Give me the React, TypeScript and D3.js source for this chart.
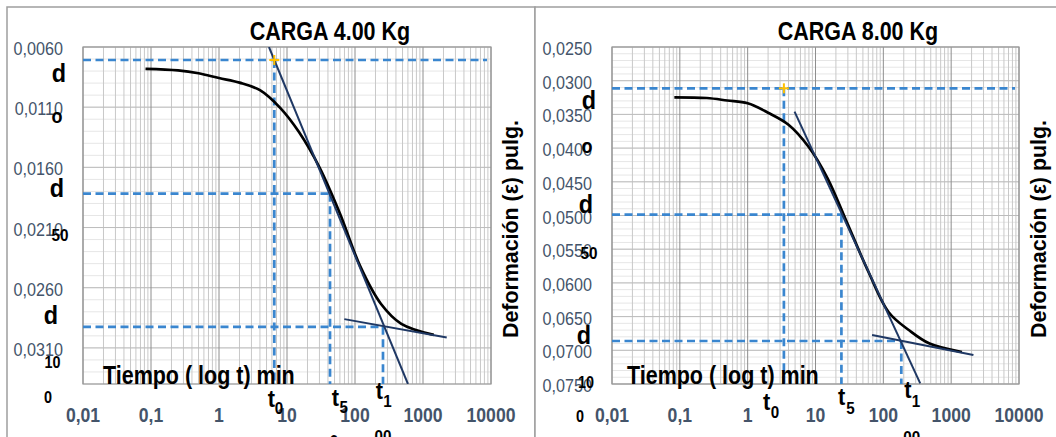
import React from "react";
import * as d3 from "d3";

// ---------------- DATA ----------------
const times = [0.083, 0.25, 0.5, 1, 2, 4, 8, 15, 30, 60, 120, 240, 480, 1440];
const def4 = [0.00781, 0.00794, 0.00818, 0.00858, 0.00896, 0.00959, 0.01108, 0.01307, 0.016, 0.01983, 0.02425, 0.02733, 0.029, 0.02992];
const def8 = [0.03246, 0.03257, 0.03294, 0.03335, 0.03475, 0.03653, 0.03987, 0.04444, 0.05135, 0.05831, 0.06435, 0.06703, 0.069, 0.07025];

const xTickValues = [0.01, 0.1, 1, 10, 100, 1000, 10000];
const xTickLabels = ["0,01", "0,1", "1", "10", "100", "1000", "10000"];

const yTicks4 = [0.006, 0.011, 0.016, 0.021, 0.026, 0.031];
const yTicks8 = [0.025, 0.03, 0.035, 0.04, 0.045, 0.05, 0.055, 0.06, 0.065, 0.07, 0.075];

const titles = ["CARGA 4.00 Kg", "CARGA 8.00 Kg"];
const xTitle = "Tiempo ( log t) min";
const yTitle = "Deformación (ε) pulg.";

// Casagrande construction values [t0, d0, t50, d50, t100, d100]
const casa4 = [6.5, 0.00708, 42.9, 0.01819, 258, 0.02925];
const casa8 = [3.42, 0.03113, 24.1, 0.04988, 184, 0.06862];
// tangent lines: [t, d] pairs
const steep4 = [[5.43, 0.006], [601, 0.034]];
const flat4 = [[69.7, 0.02861], [2234, 0.03014]];
const steep8 = [[4.91, 0.0346], [350, 0.0749]];
const flat8 = [[68.2, 0.06773], [2128, 0.0707]];

// ---------------- LAYOUT ----------------
const FONT = "'Liberation Sans', Arial, sans-serif";

function T(props: any) {
  const { x, y, size, bold = true, sx = 1, anchor = "start", fill = "#000", rotate, children } = props;
  const tr = `translate(${x},${y})` + (rotate ? ` rotate(${rotate})` : "") + ` scale(${sx},1)`;
  return (
    <text transform={tr} fontSize={size} fontWeight={bold ? 700 : 400} textAnchor={anchor} fill={fill} fontFamily={FONT}>
      {children}
    </text>
  );
}

type PanelCfg = {
  id: string;
  frame: [number, number, number, number];
  plot: { x0: number; x1: number; y0: number; y1: number };
  yDomain: [number, number];
  yTicks: number[];
  data: number[];
  casa: number[];
  steep: number[][];
  flat: number[][];
  title: string;
  titleX: number;
  dLabels: { t: string; x: number; y: number; s: number }[];
  tLabels: { t: string; x: number; y: number; s: number }[];
  yTitleX: number;
  xTitleX: number;
};

const panels: PanelCfg[] = [
  {
    id: "p4",
    frame: [7, 7, 528, 460],
    plot: { x0: 83, x1: 491, y0: 47, y1: 384 },
    yDomain: [0.006, 0.034],
    yTicks: yTicks4,
    data: def4,
    casa: casa4,
    steep: steep4,
    flat: flat4,
    title: titles[0],
    titleX: 330,
    dLabels: [
      { t: "d", x: 59, y: 82, s: 26 },
      { t: "o", x: 57, y: 123, s: 20 },
      { t: "d", x: 57, y: 197, s: 26 },
      { t: "50", x: 60, y: 241, s: 17 },
      { t: "d", x: 51, y: 324, s: 26 },
      { t: "10", x: 52.5, y: 368, s: 16 },
      { t: "0", x: 48, y: 403, s: 16 },
    ],
    tLabels: [
      { t: "t", x: 271.5, y: 407, s: 23 },
      { t: "0", x: 279, y: 414, s: 16 },
      { t: "t", x: 335.3, y: 406, s: 23 },
      { t: "5", x: 343.8, y: 413, s: 16 },
      { t: "t", x: 379.5, y: 399, s: 23 },
      { t: "1", x: 387.5, y: 407, s: 16 },
      { t: "0", x: 334, y: 447, s: 16 },
      { t: "00", x: 383, y: 442, s: 16 },
    ],
    yTitleX: 518,
    xTitleX: 103,
  },
  {
    id: "p8",
    frame: [535, 7, 540, 460],
    plot: { x0: 612, x1: 1019, y0: 47, y1: 384 },
    yDomain: [0.025, 0.075],
    yTicks: yTicks8,
    data: def8,
    casa: casa8,
    steep: steep8,
    flat: flat8,
    title: titles[1],
    titleX: 858,
    dLabels: [
      { t: "d", x: 589, y: 109, s: 26 },
      { t: "o", x: 587, y: 153, s: 20 },
      { t: "d", x: 586, y: 213, s: 26 },
      { t: "50", x: 589, y: 259, s: 17 },
      { t: "d", x: 584, y: 344, s: 26 },
      { t: "10", x: 586, y: 388, s: 16 },
      { t: "0", x: 580, y: 422, s: 16 },
    ],
    tLabels: [
      { t: "t", x: 766.7, y: 410, s: 23 },
      { t: "0", x: 775, y: 418, s: 16 },
      { t: "t", x: 841.7, y: 405, s: 23 },
      { t: "5", x: 850.5, y: 414, s: 16 },
      { t: "t", x: 908, y: 398, s: 23 },
      { t: "1", x: 916, y: 407, s: 16 },
      { t: "0", x: 846, y: 450, s: 16 },
      { t: "00", x: 911.7, y: 443, s: 16 },
    ],
    yTitleX: 1046,
    xTitleX: 627,
  },
];

const BLUE = "#3A86CF";
const NAVY = "#1F3864";

function Panel({ cfg }: { cfg: PanelCfg }) {
  const { plot } = cfg;
  const x = d3.scaleLog().domain([0.01, 10000]).range([plot.x0, plot.x1]);
  const y = d3.scaleLinear().domain(cfg.yDomain).range([plot.y0, plot.y1]);

  // gridlines
  const vMajor = xTickValues;
  const vMinor: number[] = [];
  for (let e = -2; e < 4; e++) for (let k = 2; k <= 9; k++) vMinor.push(k * Math.pow(10, e));
  const hMinor: number[] = [];
  const nMin = Math.round((cfg.yDomain[1] - cfg.yDomain[0]) / 0.001);
  for (let i = 0; i <= nMin; i++) hMinor.push(cfg.yDomain[0] + i * 0.001);

  const line = d3
    .line<number>()
    .x((_, i) => x(times[i]))
    .y((d) => y(d))
    .curve(d3.curveCatmullRom.alpha(0.5));
  const segLine = d3
    .line<number[]>()
    .x((d) => x(d[0]))
    .y((d) => y(d[1]));

  const [t0, d0, t50, d50, t100, d100] = cfg.casa;
  const dash = "8 4.5";
  const tmin = 0.01;
  const tmax = 10000;

  return (
    <g>
      <defs>
        <clipPath id={`clip-${cfg.id}`}>
          <rect x={plot.x0} y={plot.y0} width={plot.x1 - plot.x0} height={plot.y1 - plot.y0} />
        </clipPath>
      </defs>
      <rect x={cfg.frame[0]} y={cfg.frame[1]} width={cfg.frame[2]} height={cfg.frame[3]} fill="#fff" stroke="#9e9e9e" strokeWidth={1.5} />
      {hMinor.map((v, i) => (
        <line key={`hm${i}`} x1={plot.x0} x2={plot.x1} y1={y(v)} y2={y(v)} stroke="#e6e6e6" strokeWidth={1} />
      ))}
      {vMinor.map((v, i) => (
        <line key={`vm${i}`} x1={x(v)} x2={x(v)} y1={plot.y0} y2={plot.y1} stroke="#c8c8c8" strokeWidth={1} />
      ))}
      {cfg.yTicks.map((v, i) => (
        <line key={`hM${i}`} x1={plot.x0} x2={plot.x1} y1={y(v)} y2={y(v)} stroke="#bcbcbc" strokeWidth={1} />
      ))}
      {vMajor.map((v, i) => (
        <line key={`vM${i}`} x1={x(v)} x2={x(v)} y1={plot.y0} y2={plot.y1} stroke="#8e8e8e" strokeWidth={1} />
      ))}
      <rect x={plot.x0} y={plot.y0} width={plot.x1 - plot.x0} height={plot.y1 - plot.y0} fill="none" stroke="#999" strokeWidth={1.2} />

      <g stroke={BLUE} strokeWidth={2.7} strokeDasharray={dash} fill="none">
        <line x1={x(tmin)} x2={x(tmax) - 4} y1={y(d0)} y2={y(d0)} />
        <line x1={x(t0)} x2={x(t0)} y1={y(d0)} y2={plot.y1} />
        <line x1={x(tmin)} x2={x(t50)} y1={y(d50)} y2={y(d50)} />
        <line x1={x(t50)} x2={x(t50)} y1={y(d50)} y2={plot.y1} />
        <line x1={x(tmin)} x2={x(t100)} y1={y(d100)} y2={y(d100)} />
        <line x1={x(t100)} x2={x(t100)} y1={y(d100)} y2={plot.y1} />
      </g>

      <path d={line(cfg.data) || ""} fill="none" stroke="#000" strokeWidth={2.7} strokeLinejoin="round" />

      <g clipPath={`url(#clip-${cfg.id})`}>
        <path d={segLine(cfg.steep) || ""} stroke={NAVY} strokeWidth={2} fill="none" />
        <path d={segLine(cfg.flat) || ""} stroke={NAVY} strokeWidth={2} fill="none" />
      </g>

      <g stroke="#FFC000" strokeWidth={2}>
        <line x1={x(t0) - 5} x2={x(t0) + 5} y1={y(d0)} y2={y(d0)} />
        <line x1={x(t0)} x2={x(t0)} y1={y(d0) - 5} y2={y(d0) + 5} />
      </g>

      {cfg.yTicks.map((v, i) => (
        <T key={`yl${i}`} x={plot.x0 - 20} y={y(v) + 8} size={19} bold={false} sx={0.85} anchor="end" fill="#44546A">
          {v.toFixed(4).replace(".", ",")}
        </T>
      ))}
      {xTickValues.map((v, i) => (
        <T key={`xl${i}`} x={x(v)} y={421.5} size={20} sx={0.88} anchor="middle" fill="#44546A">
          {xTickLabels[i]}
        </T>
      ))}

      <T x={cfg.titleX} y={40} size={25} sx={0.86} anchor="middle">
        {cfg.title}
      </T>
      <T x={cfg.xTitleX} y={383.5} size={25} sx={0.86}>
        {xTitle}
      </T>
      <T x={cfg.yTitleX} y={229} size={23} sx={0.93} anchor="middle" rotate={-90}>
        {yTitle}
      </T>

      {cfg.dLabels.map((l, i) => (
        <T key={`dl${i}`} x={l.x} y={l.y} size={l.s} sx={0.9} anchor="middle">
          {l.t}
        </T>
      ))}
      {cfg.tLabels.map((l, i) => (
        <T key={`tl${i}`} x={l.x} y={l.y} size={l.s} sx={0.95} anchor="middle">
          {l.t}
        </T>
      ))}
    </g>
  );
}

export default function App() {
  return (
    <div style={{ position: "absolute", left: 0, top: 0 }}>
      <svg width={1056} height={437} style={{ display: "block", background: "#fff" }}>
        <rect x={0} y={0} width={1056} height={437} fill="#fff" />
        {panels.map((p) => (
          <Panel key={p.id} cfg={p} />
        ))}
      </svg>
    </div>
  );
}
